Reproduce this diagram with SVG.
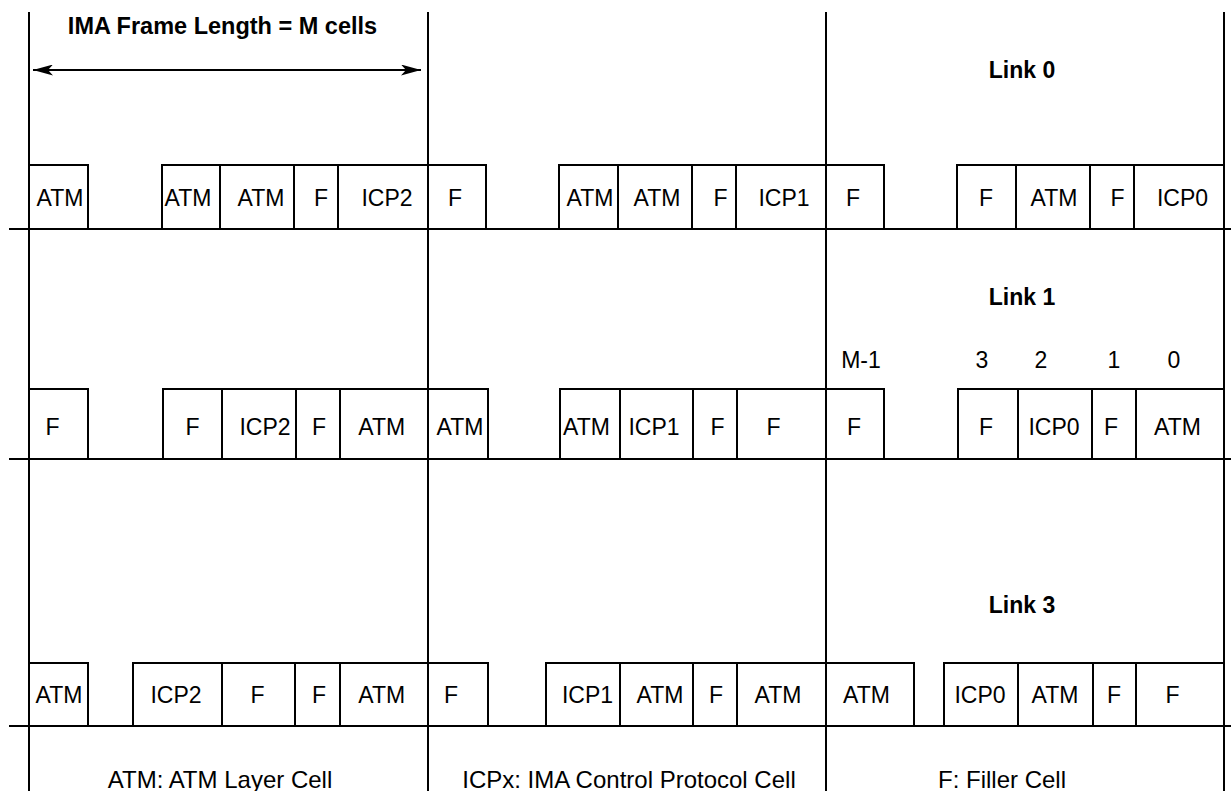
<svg xmlns="http://www.w3.org/2000/svg" width="1231" height="791" viewBox="0 0 1231 791">
<style>
.bg{fill:#fff}
.ln{stroke:#000;stroke-width:2;fill:none}
.cell rect{fill:none;stroke:#000;stroke-width:2}
.cell text,.t{font-family:"Liberation Sans",Arial,sans-serif;font-size:23px;fill:#000;text-anchor:middle}
.b{font-weight:bold}
.lg{font-size:24px}
</style>
<defs>
<marker id="ah" viewBox="0 0 20 11" refX="20" refY="5.5" markerWidth="20" markerHeight="11" markerUnits="userSpaceOnUse" orient="auto-start-reverse">
<path d="M0,0 L20,5.5 L0,11 L5,5.5 z" fill="#000"/>
</marker>
</defs>
<rect class="bg" x="0" y="0" width="1231" height="791"/>
<g id="connectors">
<line class="ln" x1="29" y1="12" x2="29" y2="791"/>
<line class="ln" x1="428" y1="12" x2="428" y2="791"/>
<line class="ln" x1="826" y1="12" x2="826" y2="791"/>
<line class="ln" x1="1224" y1="12" x2="1224" y2="791"/>
<line class="ln" x1="9" y1="229" x2="1231" y2="229"/>
<line class="ln" x1="9" y1="459" x2="1231" y2="459"/>
<line class="ln" x1="9" y1="726" x2="1231" y2="726"/>
<line x1="33" y1="70" x2="421" y2="70" stroke="#000" stroke-width="2" marker-start="url(#ah)" marker-end="url(#ah)"/>
</g>
<g id="labels">
<text class="t b" x="222.5" y="34" style="font-size:23.5px">IMA Frame Length = M cells</text>
<text class="t b" x="1022" y="78">Link 0</text>
<text class="t b" x="1022" y="305">Link 1</text>
<text class="t b" x="1022" y="613">Link 3</text>
<text class="t" x="861" y="368">M-1</text>
<text class="t" x="982" y="368">3</text>
<text class="t" x="1041" y="368">2</text>
<text class="t" x="1114" y="368">1</text>
<text class="t" x="1174" y="368">0</text>
<text class="t lg" x="220" y="788">ATM: ATM Layer Cell</text>
<text class="t lg" x="629" y="788">ICPx: IMA Control Protocol Cell</text>
<text class="t lg" x="1002" y="788">F: Filler Cell</text>
</g>
<g id="link0">
<g id="l0c1" class="cell"><rect x="29" y="165" width="59" height="64"/><text x="60" y="206">ATM</text></g>
<g id="l0c2" class="cell"><rect x="162" y="165" width="58" height="64"/><text x="188" y="206">ATM</text></g>
<g id="l0c3" class="cell"><rect x="220" y="165" width="74" height="64"/><text x="261" y="206">ATM</text></g>
<g id="l0c4" class="cell"><rect x="294" y="165" width="44" height="64"/><text x="321" y="206">F</text></g>
<g id="l0c5" class="cell"><rect x="338" y="165" width="90" height="64"/><text x="387" y="206">ICP2</text></g>
<g id="l0c6" class="cell"><rect x="428" y="165" width="58" height="64"/><text x="455" y="206">F</text></g>
<g id="l0c7" class="cell"><rect x="559" y="165" width="59" height="64"/><text x="590" y="206">ATM</text></g>
<g id="l0c8" class="cell"><rect x="618" y="165" width="74" height="64"/><text x="657" y="206">ATM</text></g>
<g id="l0c9" class="cell"><rect x="692" y="165" width="44" height="64"/><text x="720.5" y="206">F</text></g>
<g id="l0c10" class="cell"><rect x="736" y="165" width="90" height="64"/><text x="784" y="206">ICP1</text></g>
<g id="l0c11" class="cell"><rect x="826" y="165" width="58" height="64"/><text x="853" y="206">F</text></g>
<g id="l0c12" class="cell"><rect x="957" y="165" width="59" height="64"/><text x="986" y="206">F</text></g>
<g id="l0c13" class="cell"><rect x="1016" y="165" width="74" height="64"/><text x="1054" y="206">ATM</text></g>
<g id="l0c14" class="cell"><rect x="1090" y="165" width="44" height="64"/><text x="1117.5" y="206">F</text></g>
<g id="l0c15" class="cell"><rect x="1134" y="165" width="90" height="64"/><text x="1182.5" y="206">ICP0</text></g>
</g>
<g id="link1">
<g id="l1c1" class="cell"><rect x="29" y="389" width="59" height="70"/><text x="52.5" y="435">F</text></g>
<g id="l1c2" class="cell"><rect x="163" y="389" width="59" height="70"/><text x="192.5" y="435">F</text></g>
<g id="l1c3" class="cell"><rect x="222" y="389" width="74" height="70"/><text x="265" y="435">ICP2</text></g>
<g id="l1c4" class="cell"><rect x="296" y="389" width="44" height="70"/><text x="319" y="435">F</text></g>
<g id="l1c5" class="cell"><rect x="340" y="389" width="88" height="70"/><text x="381.7" y="435">ATM</text></g>
<g id="l1c6" class="cell"><rect x="428" y="389" width="60" height="70"/><text x="460" y="435">ATM</text></g>
<g id="l1c7" class="cell"><rect x="560" y="389" width="60" height="70"/><text x="586.5" y="435">ATM</text></g>
<g id="l1c8" class="cell"><rect x="620" y="389" width="73" height="70"/><text x="654" y="435">ICP1</text></g>
<g id="l1c9" class="cell"><rect x="693" y="389" width="44" height="70"/><text x="717.5" y="435">F</text></g>
<g id="l1c10" class="cell"><rect x="737" y="389" width="89" height="70"/><text x="773.5" y="435">F</text></g>
<g id="l1c11" class="cell"><rect x="826" y="389" width="58" height="70"/><text x="854" y="435">F</text></g>
<g id="l1c12" class="cell"><rect x="958" y="389" width="60" height="70"/><text x="986" y="435">F</text></g>
<g id="l1c13" class="cell"><rect x="1018" y="389" width="74" height="70"/><text x="1054" y="435">ICP0</text></g>
<g id="l1c14" class="cell"><rect x="1092" y="389" width="44" height="70"/><text x="1111" y="435">F</text></g>
<g id="l1c15" class="cell"><rect x="1136" y="389" width="88" height="70"/><text x="1177.5" y="435">ATM</text></g>
</g>
<g id="link3">
<g id="l3c1" class="cell"><rect x="29" y="663" width="59" height="63"/><text x="59" y="703">ATM</text></g>
<g id="l3c2" class="cell"><rect x="133" y="663" width="89" height="63"/><text x="176" y="703">ICP2</text></g>
<g id="l3c3" class="cell"><rect x="222" y="663" width="73" height="63"/><text x="257.5" y="703">F</text></g>
<g id="l3c4" class="cell"><rect x="295" y="663" width="45" height="63"/><text x="319" y="703">F</text></g>
<g id="l3c5" class="cell"><rect x="340" y="663" width="88" height="63"/><text x="381.7" y="703">ATM</text></g>
<g id="l3c6" class="cell"><rect x="428" y="663" width="60" height="63"/><text x="451" y="703">F</text></g>
<g id="l3c7" class="cell"><rect x="546" y="663" width="74" height="63"/><text x="587.5" y="703">ICP1</text></g>
<g id="l3c8" class="cell"><rect x="620" y="663" width="73" height="63"/><text x="660" y="703">ATM</text></g>
<g id="l3c9" class="cell"><rect x="693" y="663" width="44" height="63"/><text x="716" y="703">F</text></g>
<g id="l3c10" class="cell"><rect x="737" y="663" width="89" height="63"/><text x="778" y="703">ATM</text></g>
<g id="l3c11" class="cell"><rect x="826" y="663" width="88" height="63"/><text x="866.5" y="703">ATM</text></g>
<g id="l3c12" class="cell"><rect x="944" y="663" width="74" height="63"/><text x="980" y="703">ICP0</text></g>
<g id="l3c13" class="cell"><rect x="1018" y="663" width="75" height="63"/><text x="1055" y="703">ATM</text></g>
<g id="l3c14" class="cell"><rect x="1093" y="663" width="43" height="63"/><text x="1114" y="703">F</text></g>
<g id="l3c15" class="cell"><rect x="1136" y="663" width="88" height="63"/><text x="1172.5" y="703">F</text></g>
</g>
</svg>
